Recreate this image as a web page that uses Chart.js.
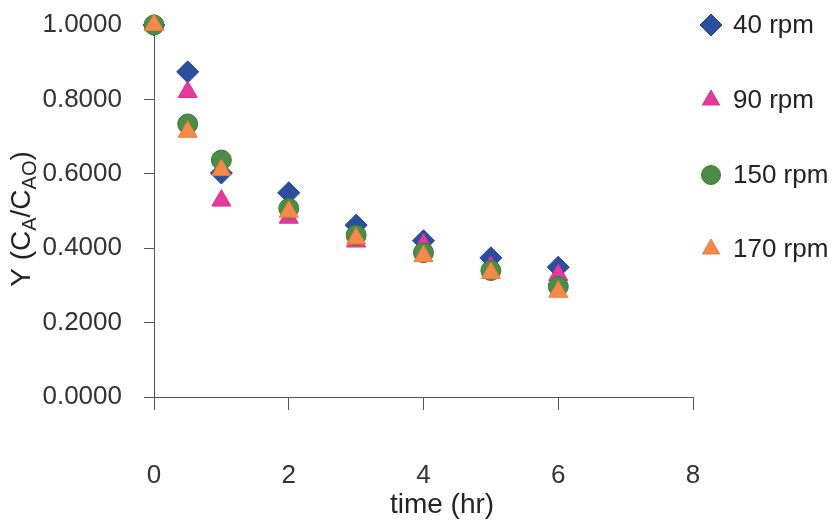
<!DOCTYPE html>
<html>
<head>
<meta charset="utf-8">
<title>Y vs time</title>
<script src="https://cdn.jsdelivr.net/npm/chart.js@4"></script>
<style>
  html, body { margin: 0; padding: 0; background: #fff; }
  #wrap { width: 839px; height: 523px; position: relative; }
</style>
</head>
<body>
<div id="wrap"><canvas id="ychart" width="839" height="523"></canvas></div>
<script>
// data
const timeHr = [0, 0.5, 1, 2, 3, 4, 5, 6];
const y40 = [1.0, 0.874, 0.602, 0.549, 0.462, 0.420, 0.374, 0.349];
const y90 = [1.0, 0.820, 0.528, 0.482, 0.418, 0.410, 0.350, 0.328];
const y150 = [1.0, 0.734, 0.637, 0.507, 0.435, 0.388, 0.340, 0.297];
const y170 = [1.0, 0.713, 0.610, 0.498, 0.426, 0.379, 0.333, 0.283];

const seriesNames = ['40 rpm', '90 rpm', '150 rpm', '170 rpm'];
const xTicks = [0, 2, 4, 6, 8];
const yTicks = [0, 0.2, 0.4, 0.6, 0.8, 1.0];

const FONT = '"Liberation Sans", Arial, Helvetica, sans-serif';

function toPoints(ys) {
	return timeHr.map((t, i) => ({ x: t, y: ys[i] }));
}

const styles = [
	{ pointStyle: 'rectRot', color: '#2b4f9f', border: '#24448c', radius: 11, order: 4 },
	{ pointStyle: 'triangle', color: '#e43a9e', border: '#d8308f', radius: 11, order: 3 },
	{ pointStyle: 'circle', color: '#4b8d47', border: '#3c7a39', radius: 10, order: 2 },
	{ pointStyle: 'triangle', color: '#f38a4a', border: '#ea7c3c', radius: 11, order: 1 },
];

const datasets = [y40, y90, y150, y170].map((ys, i) => ({
	label: seriesNames[i],
	data: toPoints(ys),
	pointStyle: styles[i].pointStyle,
	pointRadius: styles[i].radius,
	pointHoverRadius: styles[i].radius,
	backgroundColor: styles[i].color,
	borderColor: styles[i].border,
	pointBorderWidth: 1,
	showLine: false,
	clip: false,
	order: styles[i].order
}));

// legend + axis titles drawn by hand so they sit where the original has them
const extrasPlugin = {
	id: 'extras',
	afterDraw(chart) {
		const ctx = chart.ctx;
		ctx.save();

		// legend
		const rowsY = [25, 100, 175, 249];
		seriesNames.forEach((name, i) => {
			const st = styles[i];
			const r = st.pointStyle === 'circle' ? 9.5 : (st.pointStyle === 'triangle' ? 10 : 11);
			const opts = { pointStyle: st.pointStyle, radius: r, borderWidth: 1, rotation: 0 };
			ctx.fillStyle = st.color;
			ctx.strokeStyle = st.border;
			ctx.lineWidth = 1;
			Chart.helpers.drawPoint(ctx, opts, 711, rowsY[i]);
			ctx.fillStyle = '#222';
			ctx.font = '26px ' + FONT;
			ctx.textBaseline = 'middle';
			ctx.textAlign = 'left';
			ctx.fillText(name, 733, rowsY[i] + 1);
		});

		// x title
		ctx.fillStyle = '#222';
		ctx.font = '28px ' + FONT;
		ctx.textAlign = 'center';
		ctx.textBaseline = 'middle';
		ctx.fillText('time (hr)', 442, 505);

		// y title with subscripts
		const parts = [
			{ t: 'Y (C', big: true },
			{ t: 'A', big: false },
			{ t: '/C', big: true },
			{ t: 'AO', big: false },
			{ t: ')', big: true }
		];
		const bigF = '28px ' + FONT;
		const smallF = '20px ' + FONT;
		let total = 0;
		parts.forEach(p => {
			ctx.font = p.big ? bigF : smallF;
			p.w = ctx.measureText(p.t).width;
			total += p.w;
		});
		ctx.translate(20, 219);
		ctx.rotate(-Math.PI / 2);
		ctx.textAlign = 'left';
		ctx.textBaseline = 'alphabetic';
		let x = -total / 2;
		parts.forEach(p => {
			ctx.font = p.big ? bigF : smallF;
			ctx.fillText(p.t, x, p.big ? 10 : 16);
			x += p.w;
		});

		ctx.restore();
	}
};

const config = {
	type: 'scatter',
	data: { datasets },
	options: {
		responsive: false,
		animation: false,
		layout: { padding: { left: 0, right: 146, top: 25, bottom: 0 } },
		plugins: {
			legend: { display: false },
			tooltip: { enabled: false }
		},
		scales: {
			x: {
				type: 'linear',
				min: 0,
				max: 8,
				afterBuildTicks: scale => { scale.ticks = xTicks.map(v => ({ value: v })); },
				afterFit: scale => {
					scale.height = 126;
					scale.paddingLeft = 0;
					scale.paddingRight = 0;
				},
				border: { display: true, color: '#555', width: 1 },
				grid: { display: true, drawOnChartArea: false, drawTicks: true, tickLength: 13, color: '#555' },
				ticks: {
					color: '#333',
					font: { family: FONT, size: 26 },
					padding: 50,
					maxRotation: 0
				}
			},
			y: {
				type: 'linear',
				min: 0,
				max: 1,
				afterBuildTicks: scale => { scale.ticks = yTicks.map(v => ({ value: v })); },
				afterFit: scale => {
					scale.width = 154;
					scale.paddingTop = 0;
					scale.paddingBottom = 0;
				},
				border: { display: true, color: '#555', width: 1 },
				grid: { display: true, drawOnChartArea: false, drawTicks: true, tickLength: 10, color: '#555' },
				ticks: {
					color: '#333',
					font: { family: FONT, size: 26 },
					padding: 22,
					callback: v => Number(v).toFixed(4)
				}
			}
		}
	},
	plugins: [extrasPlugin]
};

const ychart = new Chart(document.getElementById('ychart'), config);
</script>
</body>
</html>
